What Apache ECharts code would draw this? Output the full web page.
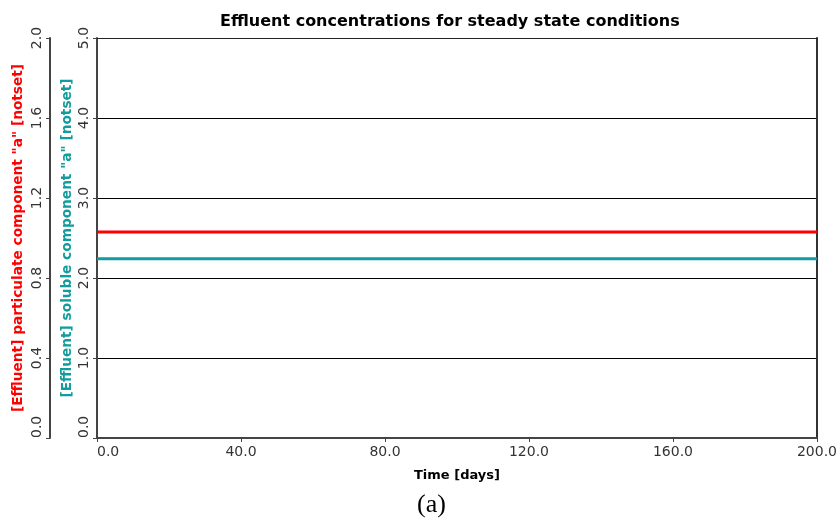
<!DOCTYPE html>
<html><head><meta charset="utf-8">
<script src="https://cdn.jsdelivr.net/npm/echarts@6/dist/echarts.min.js"></script>
<style>html,body{margin:0;padding:0;background:#fff}#c{width:840px;height:524px}</style>
</head><body><div id="c"></div>
<script>
const time = [0, 40, 80, 120, 160, 200];
const particulateA = [1.03, 1.03, 1.03, 1.03, 1.03, 1.03];
const solubleA = [2.24, 2.24, 2.24, 2.24, 2.24, 2.24];
const titleText = 'Effluent concentrations for steady state conditions';
const xName = 'Time [days]';
const yNameOuter = '[Effluent] particulate component "a" [notset]';
const yNameInner = '[Effluent] soluble component "a" [notset]';
const caption = '(a)';

const F = '"DejaVu Sans", Verdana, sans-serif';
const chart = echarts.init(document.getElementById('c'));
chart.setOption({
  animation: false,
  backgroundColor: '#fff',
  title: {text: titleText, left: 215, top: 9,
    textStyle: {fontFamily: F, fontWeight: 'bold', fontSize: 16, color: '#000'}},
  grid: {left: 97, right: 22, top: 38, bottom: 86, containLabel: false},
  xAxis: [{
    type: 'value', min: 0, max: 200, interval: 40, position: 'bottom',
    name: xName, nameLocation: 'middle', nameGap: 31,
    nameTextStyle: {fontFamily: F, fontWeight: 'bold', fontSize: 13, color: '#000'},
    axisLine: {onZero: false, lineStyle: {color: '#444', width: 2}},
    axisTick: {show: true, length: 4, lineStyle: {color: '#444'}},
    axisLabel: {formatter: v => v.toFixed(1), fontFamily: F, fontSize: 14, color: '#333', margin: 7, alignMinLabel: 'left'},
    splitLine: {show: false}
  }, {
    type: 'value', min: 0, max: 200, position: 'top',
    axisLine: {onZero: false, show: true, lineStyle: {color: '#222', width: 1}},
    axisTick: {show: false}, axisLabel: {show: false}, splitLine: {show: false}
  }],
  yAxis: [{
    type: 'value', min: 0, max: 2, interval: 0.4, position: 'left', offset: 47,
    name: yNameOuter, nameLocation: 'middle', nameGap: 25, nameRotate: 90, nameMoveOverlap: false,
    nameTextStyle: {fontFamily: F, fontWeight: 'bold', fontSize: 13.7, color: '#ff0000'},
    axisLine: {onZero: false, show: true, lineStyle: {color: '#444', width: 2}},
    axisTick: {show: true, length: 4, lineStyle: {color: '#444'}},
    axisLabel: {rotate: 90, formatter: v => v.toFixed(1), fontFamily: F, fontSize: 14, color: '#333', margin: 6, alignMinLabel: 'left'},
    splitLine: {show: false}
  }, {
    type: 'value', min: 0, max: 5, interval: 1, position: 'left', offset: 0,
    name: yNameInner, nameLocation: 'middle', nameGap: 23, nameRotate: 90, nameMoveOverlap: false,
    nameTextStyle: {fontFamily: F, fontWeight: 'bold', fontSize: 13.7, color: '#129c9c'},
    axisLine: {onZero: false, show: true, lineStyle: {color: '#444', width: 2}},
    axisTick: {show: true, length: 4, lineStyle: {color: '#444'}},
    axisLabel: {rotate: 90, formatter: v => v.toFixed(1), fontFamily: F, fontSize: 14, color: '#333', margin: 6, alignMinLabel: 'left'},
    splitLine: {show: true, lineStyle: {color: '#000', width: 1}}
  }, {
    type: 'value', min: 0, max: 5, position: 'right',
    axisLine: {onZero: false, show: true, lineStyle: {color: '#333', width: 2}},
    axisTick: {show: false}, axisLabel: {show: false}, splitLine: {show: false}
  }],
  series: [{
    type: 'line', xAxisIndex: 0, yAxisIndex: 0, showSymbol: false, symbol: 'none',
    data: time.map((t, i) => [t, particulateA[i]]),
    lineStyle: {color: '#ff0000', width: 3}, z: 5
  }, {
    type: 'line', xAxisIndex: 0, yAxisIndex: 1, showSymbol: false, symbol: 'none',
    data: time.map((t, i) => [t, solubleA[i]]),
    lineStyle: {color: '#129c9c', width: 3}, z: 5
  }],
  graphic: [{
    type: 'text', left: 417, top: 492,
    style: {text: caption, font: '26px "Liberation Serif", "Times New Roman", serif', fill: '#000'}
  }]
});
</script></body></html>
